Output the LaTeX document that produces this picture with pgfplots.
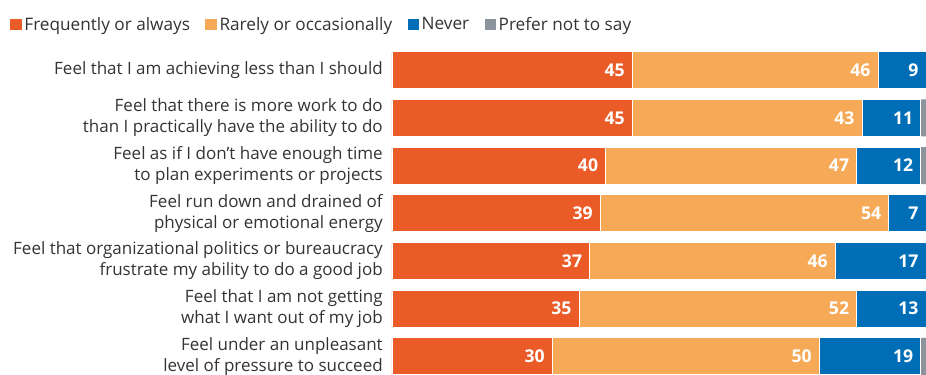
\documentclass[border=0pt]{standalone}
\usepackage{pgfplots}
\pgfplotsset{compat=1.18}
\usepackage{fontspec}
\setmainfont{Open Sans}
\definecolor{cFreq}{HTML}{EB5B27}
\definecolor{cRare}{HTML}{F6AA58}
\definecolor{cNever}{HTML}{006EB7}
\definecolor{cPrefer}{HTML}{8B939D}
\definecolor{txt}{HTML}{333333}
\begin{document}
\begin{tikzpicture}
\begin{axis}[
  xbar stacked,
  scale only axis,
  width=400.5pt, height=246.5pt,
  xmin=0, xmax=100,
  ymin=-0.5, ymax=6.39,
  y dir=reverse,
  bar width=27.75pt,
  axis line style={draw=none},
  xtick=\empty,
  ytick={0,...,6},
  major tick length=0pt,
  /pgf/number format/assume math mode=true,
  yticklabels={
    {Feel that I am achieving less than I should},
    {Feel that there is more work to do\\than I practically have the ability to do},
    {Feel as if I don’t have enough time\\to plan experiments or projects},
    {Feel run down and drained of\\physical or emotional energy},
    {Feel that organizational politics or bureaucracy\\frustrate my ability to do a good job},
    {Feel that I am not getting\\what I want out of my job},
    {Feel under an unpleasant\\level of pressure to succeed}},
  yticklabel style={align=right, font=\fontsize{12.75}{15.75}\selectfont, text=txt, inner xsep=0pt, xshift=-6.75pt},
  legend columns=4,
  legend style={draw=none, fill=none, at={(0,1)}, anchor=west, xshift=-286.5pt, yshift=16.2pt,
    font=\fontsize{12.9}{14}\selectfont, text=txt, inner sep=0pt,
    /tikz/every even column/.append style={column sep=9.5pt}},
  legend image code/.code={\fill[#1, draw=none] (0pt,-4.3pt) rectangle (8.6pt,4.3pt);},
  point meta=explicit,
  visualization depends on={rawx \as \rawx},
  every node near coord/.append style={anchor=east, xshift={\rawx*2.0025pt-2pt}, text=white, font=\fontsize{13.2}{14}\selectfont\bfseries},
]
\addplot[fill=cFreq, draw=white, line width=0.6pt, nodes near coords] coordinates {
  (45,0) [45] (45,1) [45] (40,2) [40] (39,3) [39] (37,4) [37] (35,5) [35] (30,6) [30]};
\addplot[fill=cRare, draw=white, line width=0.6pt, nodes near coords] coordinates {
  (46,0) [46] (43,1) [43] (47,2) [47] (54,3) [54] (46,4) [46] (52,5) [52] (50,6) [50]};
\addplot[fill=cNever, draw=white, line width=0.6pt, nodes near coords] coordinates {
  (9,0) [9] (11,1) [11] (12,2) [12] (7,3) [7] (17,4) [17] (13,5) [13] (19,6) [19]};
\addplot[fill=cPrefer, draw=none] coordinates {
  (0,0) [0] (1,1) [1] (1,2) [1] (0,3) [0] (0,4) [0] (0,5) [0] (1,6) [1]};
\legend{Frequently or always, Rarely or occasionally, Never, Prefer not to say}
\end{axis}
\pgfresetboundingbox
\path[use as bounding box] ([xshift=-294pt]current axis.south west) rectangle ([yshift=34.7pt]current axis.north east);
\end{tikzpicture}
\end{document}
